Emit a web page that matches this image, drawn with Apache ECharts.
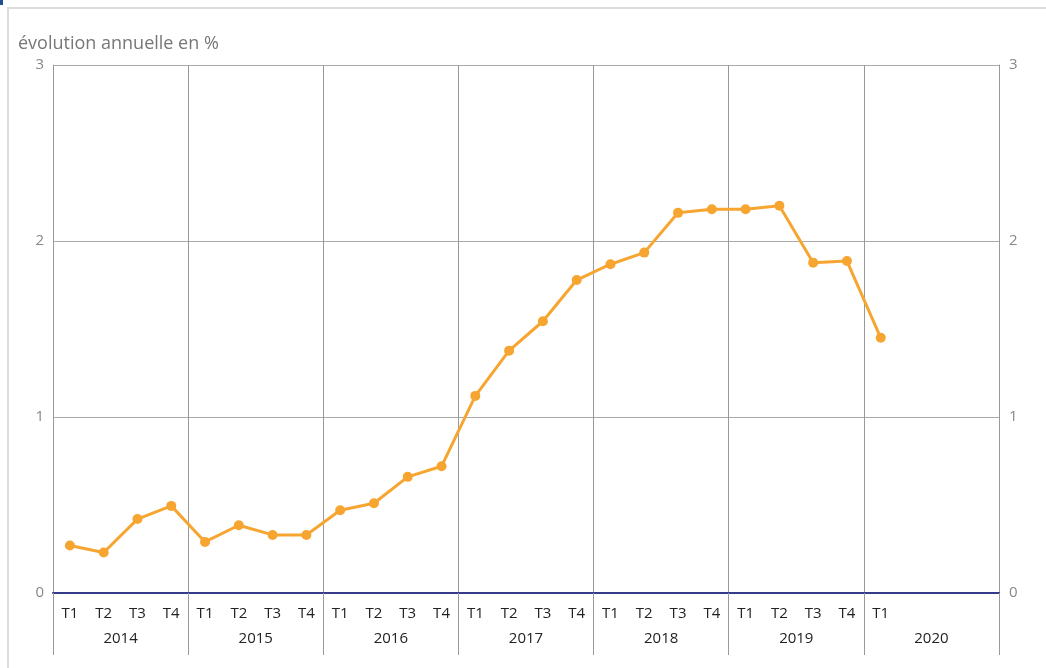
<!DOCTYPE html>
<html>
<head>
<meta charset="utf-8">
<script src="https://cdn.jsdelivr.net/npm/echarts@6/dist/echarts.min.js"></script>
<style>
html,body{margin:0;padding:0;background:#fff;}
#chart{width:1046px;height:668px;}
</style>
</head>
<body>
<div id="chart"></div>
<script>
const quarterLabels = ['T1','T2','T3','T4','T1','T2','T3','T4','T1','T2','T3','T4','T1','T2','T3','T4','T1','T2','T3','T4','T1','T2','T3','T4','T1','','',''];
const yearLabels = ['2014','2015','2016','2017','2018','2019','2020'];
const values = [0.27,0.23,0.42,0.495,0.29,0.385,0.33,0.33,0.47,0.51,0.66,0.72,1.12,1.377,1.544,1.778,1.868,1.934,2.16,2.18,2.18,2.20,1.877,1.886,1.45];
const yTicks = [0,1,2,3];
const titleText = 'évolution annuelle en %';

const chart = echarts.init(document.getElementById('chart'));
const font = 'Open Sans';
chart.setOption({
  animation: false,
  title: {
    text: titleText, left: 13, top: 30,
    textStyle: {fontFamily: font, fontSize: 18, fontWeight: 'normal', color: '#777'}
  },
  graphic: [
    {type: 'rect', shape: {x: 8, y: 8, width: 1100, height: 800}, style: {fill: 'none', stroke: '#dcdcdc', lineWidth: 2}, silent: true},
    {type: 'rect', shape: {x: 0, y: 0, width: 3, height: 5}, style: {fill: '#1d4f91'}, silent: true}
  ],
  grid: {left: 53, right: 47, top: 65, bottom: 75, containLabel: false},
  xAxis: [
    {
      type: 'category', data: quarterLabels, position: 'bottom', boundaryGap: true,
      axisLine: {show: true, lineStyle: {color: '#353a8a', width: 2}},
      axisTick: {show: false},
      axisLabel: {interval: 0, margin: 13, color: '#222', fontFamily: font, fontSize: 15},
      splitLine: {show: false}
    },
    {
      type: 'category', data: yearLabels, position: 'bottom', boundaryGap: true,
      axisLine: {show: false},
      axisTick: {show: true, interval: 0, length: 62, lineStyle: {color: '#999', width: 1}},
      axisLabel: {interval: 0, margin: 38, color: '#222', fontFamily: font, fontSize: 15},
      splitLine: {show: true, interval: 0, lineStyle: {color: '#999', width: 1}}
    }
  ],
  yAxis: [
    {
      type: 'value', min: 0, max: 3, interval: 1, position: 'left',
      axisLine: {show: true, lineStyle: {color: '#999', width: 1}},
      axisTick: {show: false},
      axisLabel: {margin: 9, color: '#888', fontFamily: font, fontSize: 15,
        formatter: v => yTicks.includes(v) ? String(v) : ''},
      splitLine: {show: true, lineStyle: {color: '#aaa', width: 1}}
    },
    {
      type: 'value', min: 0, max: 3, interval: 1, position: 'right',
      axisLine: {show: true, lineStyle: {color: '#999', width: 1}},
      axisTick: {show: false},
      axisLabel: {margin: 10, color: '#888', fontFamily: font, fontSize: 15},
      splitLine: {show: false}
    }
  ],
  series: [{
    type: 'line', xAxisIndex: 0, yAxisIndex: 0, data: values,
    symbol: 'circle', symbolSize: 10, showSymbol: true,
    lineStyle: {color: '#f7a531', width: 3},
    itemStyle: {color: '#f7a531'},
    z: 5
  }]
});
</script>
</body>
</html>
